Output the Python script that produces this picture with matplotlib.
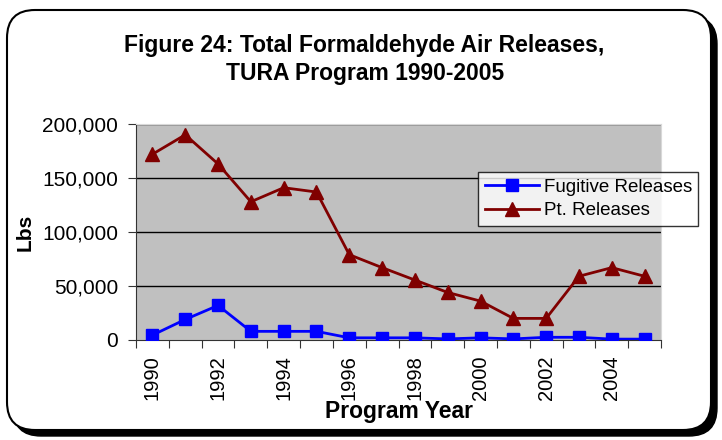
import matplotlib.pyplot as plt
from matplotlib.patches import FancyBboxPatch

years = list(range(1990, 2006))
fugitive = [4500, 19000, 32000, 8000, 8000, 8000, 2000, 2000, 2000, 1000, 2000, 1000, 2500, 2500, 800, 800]
pt_releases = [172000, 190000, 163000, 128000, 141000, 137000, 79000, 67000, 55500, 44000, 36000, 20000, 20000, 59000, 67000, 59000]
y_ticks = [0, 50000, 100000, 150000, 200000]

plt.rcParams['font.family'] = ['Liberation Sans', 'DejaVu Sans']

fig = plt.figure(figsize=(7.22, 4.40), dpi=100)

# background with rounded border and shadow, in pixel units
bg = fig.add_axes([0, 0, 1, 1], zorder=-10)
bg.set_xlim(0, 722)
bg.set_ylim(440, 0)
bg.axis('off')
bg.add_patch(FancyBboxPatch((13, 16), 704, 420, boxstyle='round,pad=0,rounding_size=28',
                            fc='black', ec='black', lw=1))
bg.add_patch(FancyBboxPatch((7, 10), 704, 420, boxstyle='round,pad=0,rounding_size=28',
                            fc='white', ec='black', lw=1.5))

ax = fig.add_axes([0.1884, 0.2273, 0.9155 - 0.1884, 0.7182 - 0.2273])
ax.set_facecolor('#C0C0C0')

x = list(range(len(years)))
ax.plot(x, fugitive, '-s', color='#0000FF', lw=2, ms=8.5, label='Fugitive Releases', zorder=3)
ax.plot(x, pt_releases, '-^', color='#800000', lw=2, ms=10.5, label='Pt. Releases', zorder=3)

ax.set_xlim(-0.5, len(years) - 0.5)
ax.set_ylim(0, 200000)
ax.set_yticks(y_ticks)
ax.set_yticklabels([f'{v:,}' for v in y_ticks], fontsize=15)
for v in y_ticks[1:]:
    ax.axhline(v, color='black', lw=1, zorder=1)

# category ticks between years, labels on every other year
ax.set_xticks([i - 0.5 for i in range(len(years) + 1)])
ax.set_xticklabels([])
ax.set_xticks(x[::2], minor=True)
ax.set_xticklabels([str(y) for y in years[::2]], minor=True, rotation=90, fontsize=14.5)
ax.tick_params(axis='x', which='minor', length=0, pad=11)
ax.tick_params(axis='x', which='major', length=6, color='#333333')
ax.tick_params(axis='y', length=6, color='#333333', pad=7)

for s in ['top', 'right']:
    ax.spines[s].set_color('#D8D8D8')
for s in ['left', 'bottom']:
    ax.spines[s].set_color('#333333')

ax.set_ylabel('Lbs', fontsize=15, fontweight='bold', labelpad=5)
ax.set_xlabel('Program Year', fontsize=16.5, fontweight='bold', labelpad=0)

fig.text(0.505, 0.897, 'Figure 24: Total Formaldehyde Air Releases,', ha='center', va='center',
         fontsize=16.5, fontweight='bold')
fig.text(0.505, 0.834, 'TURA Program 1990-2005', ha='center', va='center',
         fontsize=16.5, fontweight='bold')

leg = ax.legend(loc='upper left', bbox_to_anchor=(0.662, 0.609), bbox_transform=fig.transFigure,
                fontsize=13.5, frameon=True, fancybox=False, borderaxespad=0,
                handlelength=2.9, handletextpad=0.25, borderpad=0.35, labelspacing=0.35)
leg.get_frame().set_edgecolor('black')
leg.get_frame().set_facecolor('white')
leg.get_frame().set_linewidth(1)

fig.savefig('out.png', dpi=100)
